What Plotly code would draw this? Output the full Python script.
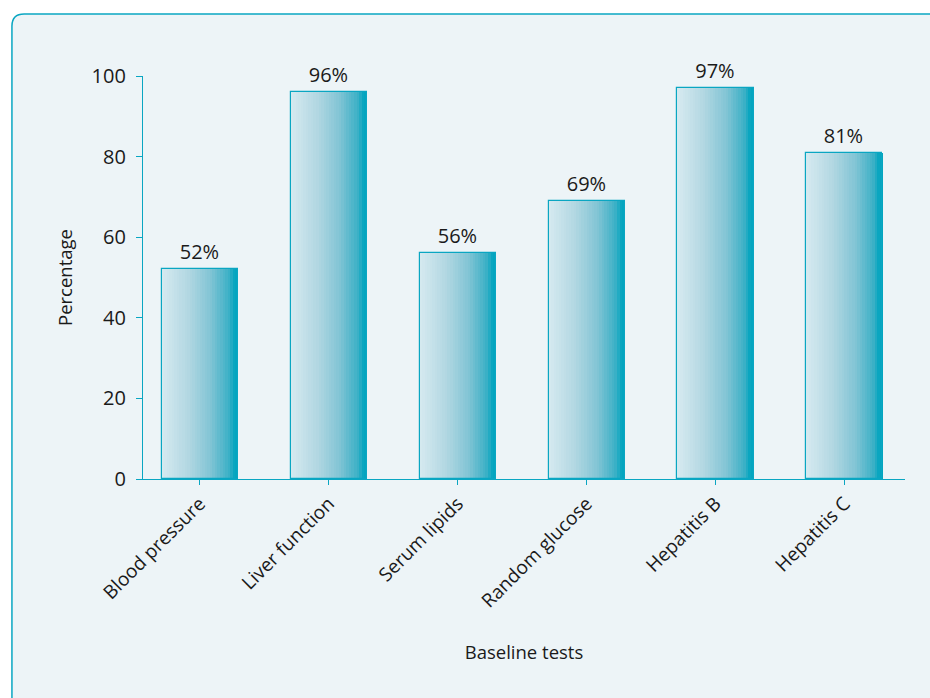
import plotly.graph_objects as go

categories = ["Blood pressure", "Liver function", "Serum lipids",
              "Random glucose", "Hepatitis B", "Hepatitis C"]
values = [52, 96, 56, 69, 97, 81]
labels = ["52%", "96%", "56%", "69%", "97%", "81%"]
y_ticks = [0, 20, 40, 60, 80, 100]

TEAL = "#0AA6C2"
FONT = "Open Sans"
BAR_W = 0.59
N_STRIPS = 30

# gradient stops (fraction, rgb)
stops = [(0.0, (214, 234, 240)), (0.35, (178, 215, 226)), (0.65, (128, 196, 212)),
         (0.88, (60, 176, 198)), (0.95, (10, 166, 192)), (1.0, (0, 165, 190))]


def interp(t):
    for (t0, c0), (t1, c1) in zip(stops[:-1], stops[1:]):
        if t0 <= t <= t1:
            f = (t - t0) / (t1 - t0) if t1 > t0 else 0
            return "rgb(%d,%d,%d)" % tuple(round(a + (b - a) * f) for a, b in zip(c0, c1))
    return "rgb(%d,%d,%d)" % stops[-1][1]


fig = go.Figure()
sw = BAR_W / N_STRIPS
for i in range(N_STRIPS):
    t = (i + 0.5) / N_STRIPS
    fig.add_trace(go.Bar(
        x=categories, y=values, width=sw * 1.15, offset=-BAR_W / 2 + i * sw,
        marker=dict(color=interp(t), line=dict(width=0)),
        hoverinfo="skip", showlegend=False))

fig.add_trace(go.Bar(
    x=categories, y=values, width=BAR_W, offset=-BAR_W / 2,
    marker=dict(color="rgba(0,0,0,0)", line=dict(color=TEAL, width=1.2)),
    text=labels, textposition="outside", cliponaxis=False,
    textfont=dict(family=FONT, size=20, color="#1a1a1a"),
    showlegend=False))

# panel background with rounded top-left corner (paper coords)
x0, y1 = -0.172, 1.154
x1, y0 = 1.2, -0.6
rx, ry = 0.016, 0.03
path = (f"M {x0},{y0} L {x0},{y1-ry} Q {x0},{y1} {x0+rx},{y1} "
        f"L {x1},{y1} L {x1},{y0} Z")

fig.update_layout(
    width=930, height=698,
    margin=dict(l=143, r=25, t=76, b=219),
    paper_bgcolor="white", plot_bgcolor="rgba(0,0,0,0)",
    barmode="overlay", bargap=0,
    font=dict(family=FONT, color="#1a1a1a"),
    shapes=[dict(type="path", path=path, xref="paper", yref="paper",
                 fillcolor="#EDF4F7", line=dict(color=TEAL, width=1.5), layer="below")],
    xaxis=dict(range=[-0.44, 5.47], showline=True, linecolor=TEAL, linewidth=1.2,
               ticks="outside", ticklen=5, tickcolor=TEAL, tickangle=-45,
               tickfont=dict(family=FONT, size=19, color="#1a1a1a"),
               title=dict(text="Baseline tests", font=dict(family=FONT, size=18.5), standoff=34),
               showgrid=False, zeroline=False),
    yaxis=dict(range=[0, 100], tickvals=y_ticks, showline=True, linecolor=TEAL, linewidth=1.2,
               ticks="outside", ticklen=6, tickcolor=TEAL,
               tickfont=dict(family=FONT, size=20, color="#1a1a1a"), ticklabelstandoff=6,
               title=dict(text="Percentage", font=dict(family=FONT, size=18.5), standoff=14),
               showgrid=False, zeroline=False),
)

fig.write_html("out.html", config={"displayModeBar": False},
               post_script="document.body.style.margin='0';document.body.style.overflow='hidden';")
